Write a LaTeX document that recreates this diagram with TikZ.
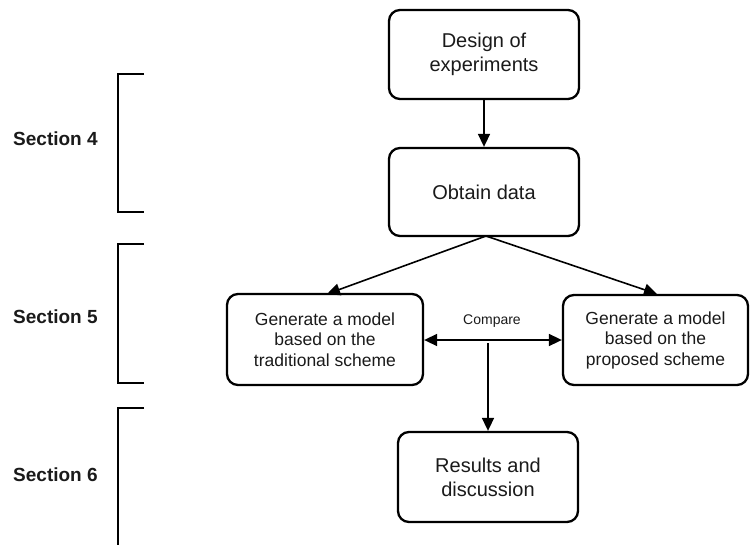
\documentclass[tikz,border=0pt]{standalone}
\usepackage{fontspec}
\setmainfont{Liberation Sans}
\usetikzlibrary{arrows.meta}
\definecolor{txt}{HTML}{1A1A1A}
\begin{document}
\begin{tikzpicture}[x=1pt,y=-1pt,
  box/.style={draw, line width=2.3pt, rounded corners=11pt, align=center, inner sep=0pt, text=txt},
  bigtxt/.style={font=\fontsize{20}{24}\selectfont},
  midtxt/.style={font=\fontsize{17.5}{20.5}\selectfont},
  arr/.style={line width=1.6pt, -{Triangle[length=13pt,width=12pt]}},
  darr/.style={line width=1.6pt, {Triangle[length=13pt,width=12pt]}-{Triangle[length=13pt,width=12pt]}},
  brk/.style={line width=1.6pt},
  sec/.style={font=\bfseries\fontsize{19}{22}\selectfont, anchor=west, inner sep=0pt, text=txt}]
\useasboundingbox (0,0) rectangle (750,544);
% boxes
\node[box, bigtxt, minimum width=190pt, minimum height=89pt] (doe) at (484,54.5) {Design of\\experiments};
\node[box, bigtxt, minimum width=190pt, minimum height=88pt] (obt) at (484,192) {Obtain data};
\node[box, midtxt, minimum width=196pt, minimum height=91pt] (trad) at (325,339.5) {Generate a model\\based on the\\traditional scheme};
\node[box, midtxt, minimum width=185pt, minimum height=90pt] (prop) at (655.5,340) {Generate a model\\based on the\\proposed scheme};
\node[box, bigtxt, minimum width=180pt, minimum height=90pt] (res) at (488,477) {Results and\\discussion};
% connectors
\draw[arr] (doe.south) -- (obt.north);
\coordinate (apex) at (486,236);
\draw[arr] (apex) -- (327,294);
\draw[arr] (apex) -- (657,294);
\draw[darr] (trad.east |- 0,340) -- (prop.west |- 0,340);
\node[font=\fontsize{14}{16}\selectfont, text=txt] (cmp) at (492,321) {Compare};
\coordinate (vs) at (488,343);
\draw[arr] (vs) -- (res.north -| vs);
% brackets
\draw[brk] (144,74) -- (118,74) -- (118,212) -- (144,212);
\draw[brk] (144,244) -- (118,244) -- (118,383) -- (144,383);
\draw[brk] (144,408) -- (118,408) -- (118,545);
% section labels
\node[sec] (s4) at (13,139) {Section 4};
\node[sec] (s5) at (13,317) {Section 5};
\node[sec] (s6) at (13,475) {Section 6};
\end{tikzpicture}
\end{document}
